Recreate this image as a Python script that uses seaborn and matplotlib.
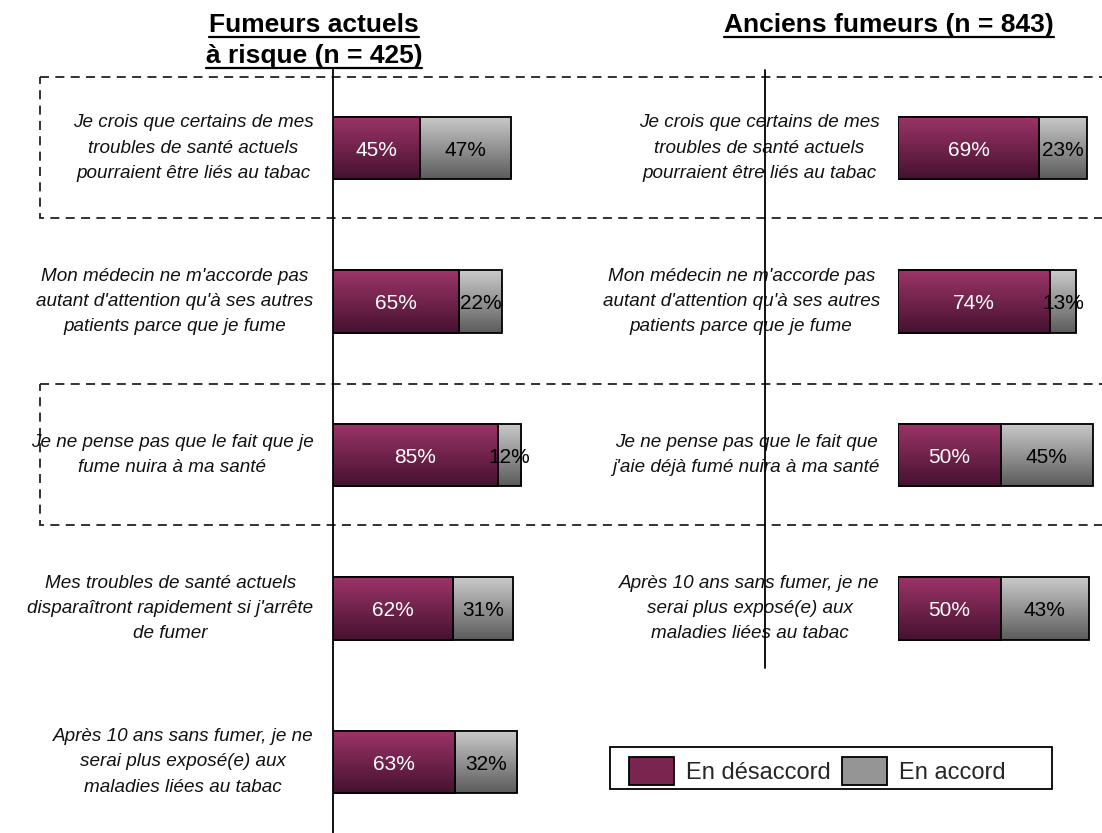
import numpy as np
import pandas as pd
import matplotlib
matplotlib.use("Agg")
import matplotlib.pyplot as plt
import seaborn as sns
from matplotlib.colors import LinearSegmentedColormap
from matplotlib.patches import Rectangle, Patch
from matplotlib.lines import Line2D
from matplotlib.transforms import blended_transform_factory

W, H = 1102, 833

# Data
left_title = ["Fumeurs actuels", "à risque (n = 425)"]
right_title = "Anciens fumeurs (n = 843)"

left_items = [
    "Je crois que certains de mes\ntroubles de santé actuels\npourraient être liés au tabac",
    "Mon médecin ne m'accorde pas\nautant d'attention qu'à ses autres\npatients parce que je fume",
    "Je ne pense pas que le fait que je\nfume nuira à ma santé",
    "Mes troubles de santé actuels\ndisparaîtront rapidement si j'arrête\nde fumer",
    "Après 10 ans sans fumer, je ne\nserai plus exposé(e) aux\nmaladies liées au tabac",
]
left_disagree = [45, 65, 85, 62, 63]
left_agree = [47, 22, 12, 31, 32]

right_items = [
    "Je crois que certains de mes\ntroubles de santé actuels\npourraient être liés au tabac",
    "Mon médecin ne m'accorde pas\nautant d'attention qu'à ses autres\npatients parce que je fume",
    "Je ne pense pas que le fait que\nj'aie déjà fumé nuira à ma santé",
    "Après 10 ans sans fumer, je ne\nserai plus exposé(e) aux\nmaladies liées au tabac",
]
right_disagree = [69, 74, 50, 50]
right_agree = [23, 13, 45, 43]

legend_labels = ["En désaccord", "En accord"]
boxed_rows = [0, 2]

sns.set_theme(style="white")
plt.rcParams["font.family"] = ["Liberation Sans", "DejaVu Sans"]

purple_cmap = LinearSegmentedColormap.from_list("purple_grad", ["#9c3468", "#461230"])
grey_cmap = LinearSegmentedColormap.from_list("grey_grad", ["#cacaca", "#5c5c5c"])

fig = plt.figure(figsize=(W / 100, H / 100), dpi=100)


def add_axes_px(x0, x1, y0=70, y1=H):
    return fig.add_axes([x0 / W, 1 - y1 / H, (x1 - x0) / W, (y1 - y0) / H])


# row i sits at pixel 148 + 153.5 * i
ylims = ((H - 148) / 153.5, (70 - 148) / 153.5)

ax_l = add_axes_px(333, 333 + 194)
ax_r = add_axes_px(898, 898 + 205)


def draw_panel(ax, items, disagree, agree, label_offset):
    df = pd.DataFrame({"item": items, "disagree": disagree, "agree": agree})
    df["total"] = df["disagree"] + df["agree"]
    n = len(df)
    sns.barplot(data=df, x="total", y="item", orient="h", color="#999999",
                width=0.41, ax=ax, edgecolor="black", linewidth=1.3)
    sns.barplot(data=df, x="disagree", y="item", orient="h", color="#7a2550",
                width=0.41, ax=ax, edgecolor="black", linewidth=1.3)

    # vertical gradient fill like the original
    grad = np.linspace(0, 1, 64).reshape(-1, 1)
    for k, patch in enumerate(list(ax.patches)):
        cmap = grey_cmap if k < n else purple_cmap
        base = 2 if k < n else 3
        x0, y0 = patch.get_x(), patch.get_y()
        w, h = patch.get_width(), patch.get_height()
        ax.imshow(grad, cmap=cmap, aspect="auto", origin="upper",
                  extent=(x0, x0 + w, y0 + h, y0), zorder=base, interpolation="bilinear")
        patch.set_facecolor("none")
        patch.set_zorder(base + 0.5)

    for i, (d, a) in enumerate(zip(disagree, agree)):
        ax.text(d / 2, i, f"{d}%", color="white", ha="center", va="center_baseline",
                fontsize=15, zorder=6)
        ax.text(d + a / 2, i, f"{a}%", color="black", ha="center", va="center_baseline",
                fontsize=15, zorder=6)
        ax.annotate(items[i], xy=(0, i), xytext=(label_offset, 0), textcoords="offset points",
                    ha="right", va="center", multialignment="center", style="italic",
                    fontsize=13.6, linespacing=1.65, color="#111111")

    ax.set_xlim(0, 100)
    ax.set_ylim(*ylims)
    ax.set_xticks([])
    ax.set_yticks([])
    ax.set_xlabel("")
    ax.set_ylabel("")
    for s in ax.spines.values():
        s.set_visible(False)
    ax.patch.set_alpha(0)


draw_panel(ax_l, left_items, left_disagree, left_agree, -14)
draw_panel(ax_r, right_items, right_disagree, right_agree, -13)

ax_l.spines["left"].set_visible(True)
ax_l.spines["left"].set_color("black")
ax_l.spines["left"].set_linewidth(1.3)

# vertical guide line of the right panel
trans_r = blended_transform_factory(fig.transFigure, ax_r.transData)
fig.add_artist(Line2D([765 / W, 765 / W], [ylims[1], (668 - 148) / 153.5],
                      transform=trans_r, color="black", lw=1.3, zorder=10))

# dashed highlight boxes
trans_l = blended_transform_factory(fig.transFigure, ax_l.transData)
for r in boxed_rows:
    fig.add_artist(Rectangle((40 / W, r - 0.465), (1130 - 40) / W, 0.92, transform=trans_l,
                             fill=False, edgecolor="#222222", lw=1.3,
                             linestyle=(0, (5, 3.5)), zorder=0))

# titles
title_texts = []
for txt, x, yb in [(left_title[0], 314, 32), (left_title[1], 314, 63), (right_title, 889, 32)]:
    t = fig.text(x / W, 1 - yb / H, txt, ha="center", va="baseline",
                 fontsize=19, fontweight="bold", color="black")
    title_texts.append((t, yb))

fig.canvas.draw()
renderer = fig.canvas.get_renderer()
for t, yb in title_texts:
    bb = t.get_window_extent(renderer)
    yu = 1 - (yb + 4.5) / H
    fig.add_artist(Line2D([bb.x0 / W, bb.x1 / W], [yu, yu], transform=fig.transFigure,
                          color="black", lw=1.6))

# legend: swatches + labels, wider frame drawn separately
handles = [Patch(facecolor="#7a2550", edgecolor="black", lw=1.3),
           Patch(facecolor="#959595", edgecolor="black", lw=1.3)]
leg = fig.legend(handles, legend_labels, loc="center left", bbox_to_anchor=(629 / W, 1 - 771 / H),
                 ncol=2, fontsize=17, frameon=False,
                 handlelength=1.9, handleheight=1.5, columnspacing=0.5, handletextpad=0.5,
                 borderpad=0, borderaxespad=0)
fig.add_artist(Rectangle((610 / W, 1 - 789 / H), (1052 - 610) / W, 42 / H,
                         transform=fig.transFigure, fill=False, edgecolor="black", lw=1.3))

fig.savefig("out.png", dpi=100, facecolor="white")
